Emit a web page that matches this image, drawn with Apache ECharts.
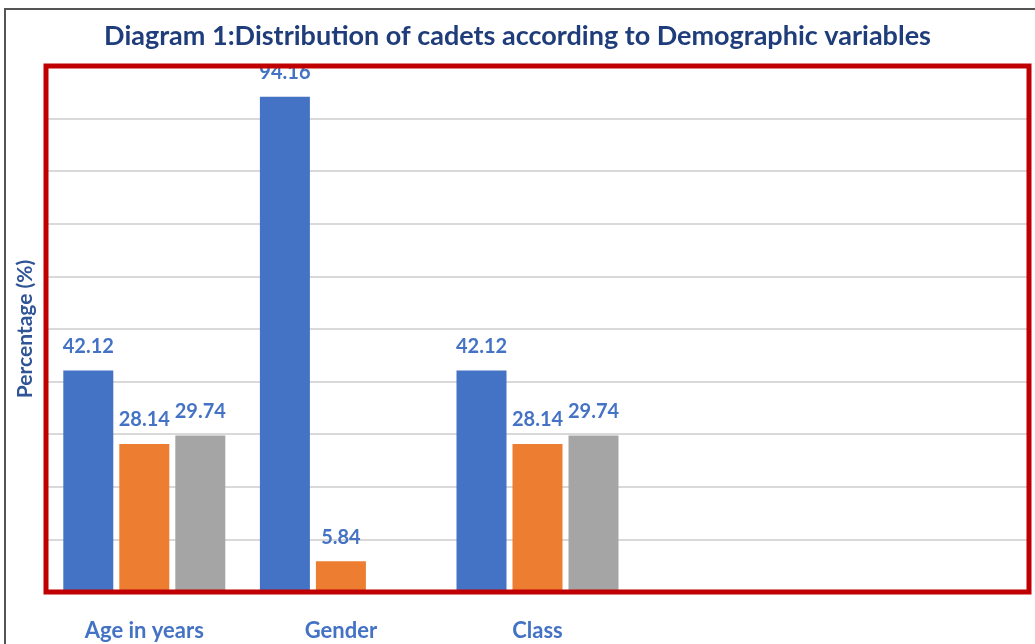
<!DOCTYPE html>
<html>
<head>
<meta charset="utf-8">
<script src="https://cdn.jsdelivr.net/npm/echarts@6/dist/echarts.min.js"></script>
<style>
    html, body { margin: 0; padding: 0; background: #fff; }
    #chart { width: 1035px; height: 644px; }
</style>
</head>
<body>
<div id="chart"></div>
<script>
// 数据
var categories = ['Age in years', 'Gender', 'Class', '', ''];
var blueValues = [42.12, 94.16, 42.12, null, null];
var orangeValues = [28.14, 5.84, 28.14, null, null];
var greyValues = [29.74, null, 29.74, null, null];
var yTicks = [0, 100, 10]; // min, max, interval

var myChart = echarts.init(document.getElementById('chart'));

var labelStyle = {
    show: true,
    position: 'top',
    distance: 14,
    color: '#4472C4',
    fontFamily: 'Lato',
    fontWeight: 'bold',
    fontSize: 20
};

myChart.setOption({
    animation: false,
    color: ['#4472C4', '#ED7D31', '#A5A5A5'],
    title: {
        text: 'Diagram 1:Distribution of cadets according to Demographic variables',
        left: 'center',
        top: 18,
        textStyle: {
            color: '#1F3D7A',
            fontFamily: 'Lato',
            fontWeight: 'bold',
            fontSize: 27
        }
    },
    graphic: [
        {
            type: 'rect',
            shape: { x: 5, y: 9, width: 1040, height: 650 },
            style: { fill: 'none', stroke: '#555', lineWidth: 2 },
            silent: true
        },
        {
            // 红色边框
            type: 'rect',
            z: 100,
            shape: { x: 46, y: 66, width: 983, height: 526 },
            style: { fill: 'none', stroke: '#C00000', lineWidth: 5 },
            silent: true
        }
    ],
    grid: {
        left: 46,
        top: 66,
        width: 983,
        height: 526
    },
    xAxis: {
        type: 'category',
        data: categories,
        axisLine: { show: false },
        axisTick: { show: false },
        axisLabel: {
            margin: 28,
            color: '#4472C4',
            fontFamily: 'Lato',
            fontWeight: 'bold',
            fontSize: 22
        }
    },
    yAxis: {
        type: 'value',
        min: yTicks[0],
        max: yTicks[1],
        interval: yTicks[2],
        name: 'Percentage (%)',
        nameLocation: 'middle',
        nameGap: 10,
        nameTextStyle: {
            color: '#2F5597',
            fontFamily: 'Lato',
            fontWeight: 'bold',
            fontSize: 21
        },
        axisLine: { show: false },
        axisTick: { show: false },
        axisLabel: { show: false },
        splitLine: { lineStyle: { color: '#D9D9D9', width: 2 } }
    },
    series: [
        { name: 'Group 1', type: 'bar', barWidth: 50, barGap: '12%', data: blueValues, label: labelStyle },
        { name: 'Group 2', type: 'bar', barWidth: 50, barGap: '12%', data: orangeValues, label: labelStyle },
        { name: 'Group 3', type: 'bar', barWidth: 50, barGap: '12%', data: greyValues, label: labelStyle }
    ]
});
</script>
</body>
</html>
